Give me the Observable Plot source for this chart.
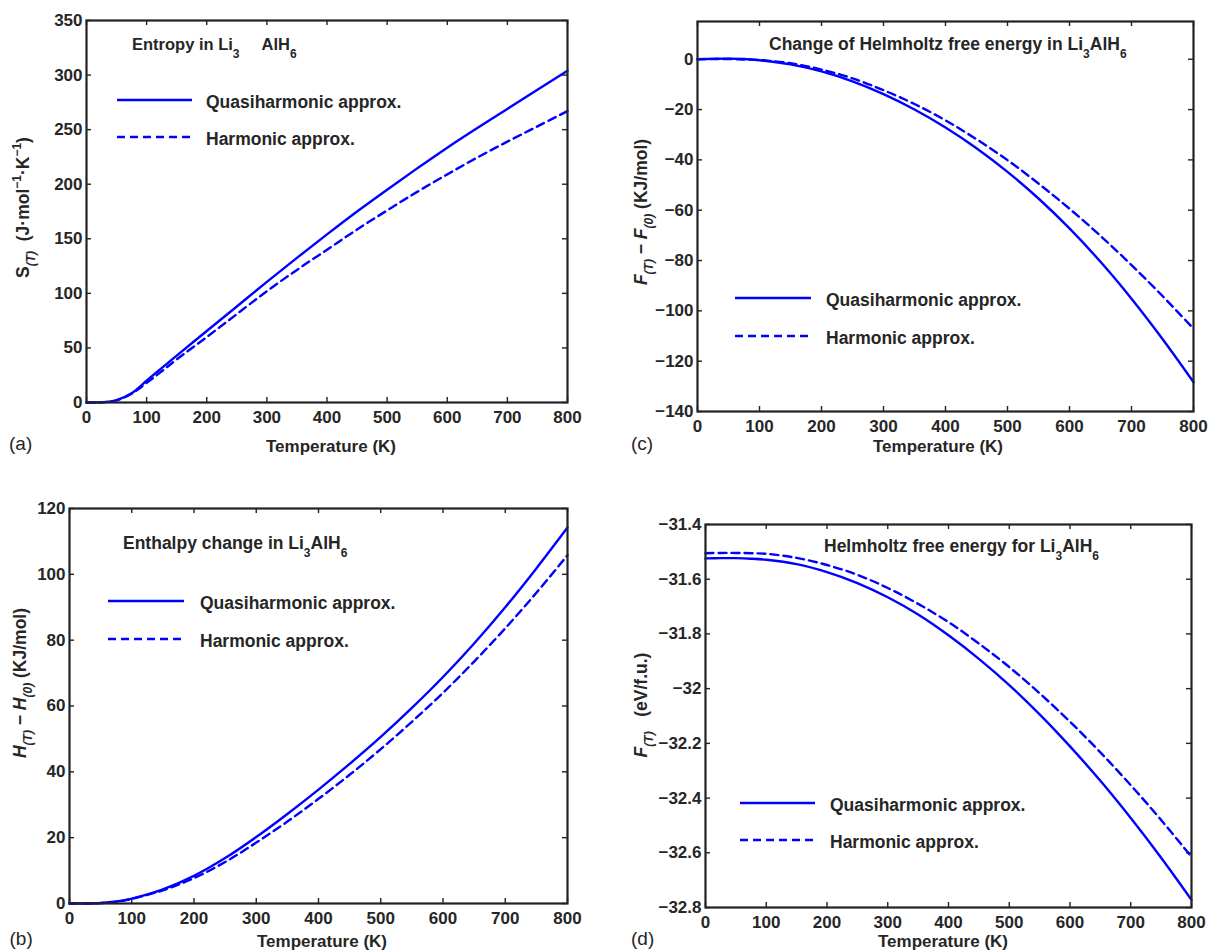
<!DOCTYPE html>
<html>
<head>
<meta charset="utf-8">
<script src="https://cdn.jsdelivr.net/npm/d3@7"></script>
<script src="https://cdn.jsdelivr.net/npm/@observablehq/plot@0.6"></script>
<style>
  body { margin: 0; background: #fff; }
  #fig { position: relative; width: 1208px; height: 950px; overflow: hidden; background: #fff; }
  #fig .panel { position: absolute; }
  #fig svg.overlay { position: absolute; left: 0; top: 0; pointer-events: none; }
</style>
</head>
<body>
<div id="fig"></div>
<script>
// ---- Data: thermodynamic functions of Li3AlH6 vs temperature ----
const tempsA = [0, 25, 50, 75, 100, 125, 150, 200, 250, 300, 350, 400, 450, 500, 550, 600, 650, 700, 750, 800];
const entropyQuasi = [0, 0.2, 2.2, 8.5, 20, 31.5, 43, 65.5, 88, 110.5, 132.5, 154, 175, 195, 214.5, 233.5, 251.5, 269, 286.5, 304];
const entropyHarm  = [0, 0.2, 2.0, 8.0, 18, 28.5, 39.5, 60, 81, 102, 121.5, 140, 158.5, 176, 193, 209, 224.5, 239, 253, 267];

const temps = [0, 25, 50, 75, 100, 150, 200, 250, 300, 350, 400, 450, 500, 550, 600, 650, 700, 750, 800];
const enthalpyQuasi = [0, 0, 0.15, 0.6, 1.5, 4.3, 8.4, 13.8, 20.2, 27.2, 34.6, 42.4, 50.6, 59.4, 68.8, 79.0, 90.0, 101.8, 114.2];
const enthalpyHarm  = [0, 0, 0.12, 0.5, 1.4, 4.0, 7.7, 12.6, 18.5, 24.9, 31.8, 39.1, 46.9, 55.2, 64.0, 73.5, 83.6, 94.4, 105.8];

const helmholtzChangeQuasi = [0, 0.15, 0.25, 0.1, -0.4, -2.05, -4.85, -8.8, -13.85, -19.95, -27.1, -35.35, -44.75, -55.35, -67.25, -80.5, -95.15, -111.15, -128.3];
const helmholtzChangeHarm  = [0, 0.1, 0.1, -0.1, -0.3, -1.6, -4.1, -7.6, -12.3, -17.8, -24.3, -31.8, -40.1, -49.4, -59.4, -70.2, -81.8, -94.1, -107.1];

const freeEnergyQuasi = [-31.524, -31.523, -31.523, -31.525, -31.529, -31.545, -31.574, -31.614, -31.666, -31.729, -31.805, -31.891, -31.987, -32.094, -32.211, -32.337, -32.473, -32.618, -32.772];
const freeEnergyHarm  = [-31.505, -31.504, -31.504, -31.505, -31.507, -31.522, -31.548, -31.584, -31.632, -31.690, -31.757, -31.835, -31.921, -32.017, -32.121, -32.233, -32.353, -32.480, -32.615];

// tick values
const tempTicks = [0, 100, 200, 300, 400, 500, 600, 700, 800];
const entropyTicks = [0, 50, 100, 150, 200, 250, 300, 350];
const enthalpyTicks = [0, 20, 40, 60, 80, 100, 120];
const helmholtzChangeTicks = [-140, -120, -100, -80, -60, -40, -20, 0];
const freeEnergyTicks = [-32.8, -32.6, -32.4, -32.2, -32, -31.8, -31.6, -31.4];

// series labels
const seriesNames = ["Quasiharmonic approx.", "Harmonic approx."];

// ---- Styling ----
const BLUE = "#0000ff";
const INK = "#222";
const FONT = "'Liberation Sans', Arial, Helvetica, sans-serif";
const DASH = "8,5";
const LINE_W = 2.4;

const fig = document.getElementById("fig");

function panel({left, top, width, height, mt, mr, mb, ml, xs, yDomain, yTicks, quasi, harm}) {
  const rows = vals => xs.map((T, i) => ({T, v: vals[i]}));
  const innerW = width - ml - mr;
  const innerH = height - mt - mb;
  const fmt = d3.format("~g");
  const chart = Plot.plot({
    width, height,
    marginTop: mt, marginRight: mr, marginBottom: mb, marginLeft: ml,
    x: {domain: [0, 800]},
    y: {domain: yDomain},
    style: {fontFamily: FONT, fontSize: "17px", fontWeight: "bold", color: "#262626", background: "transparent", overflow: "visible"},
    marks: [
      // inward ticks on all four sides of the box
      Plot.ruleX(tempTicks, {x: d => d, insetTop: innerH - 5, stroke: INK, strokeWidth: 1.4}),
      Plot.ruleX(tempTicks, {x: d => d, insetBottom: innerH - 5, stroke: INK, strokeWidth: 1.4}),
      Plot.ruleY(yTicks, {y: d => d, insetRight: innerW - 5, stroke: INK, strokeWidth: 1.4}),
      Plot.ruleY(yTicks, {y: d => d, insetLeft: innerW - 5, stroke: INK, strokeWidth: 1.4}),
      Plot.line(rows(harm), {x: "T", y: "v", stroke: BLUE, strokeWidth: LINE_W, strokeDasharray: DASH, curve: "catmull-rom"}),
      Plot.line(rows(quasi), {x: "T", y: "v", stroke: BLUE, strokeWidth: LINE_W, curve: "catmull-rom"}),
      Plot.frame({stroke: INK, strokeWidth: 2.2}),
      Plot.axisX({ticks: tempTicks, tickSize: 0, tickPadding: 8, tickFormat: fmt, label: null, fontSize: 17, fontWeight: "bold"}),
      Plot.axisY({ticks: yTicks, tickSize: 0, tickPadding: 4, tickFormat: fmt, label: null, fontSize: 17, fontWeight: "bold"})
    ]
  });
  const holder = document.createElement("div");
  holder.className = "panel";
  holder.style.left = left + "px";
  holder.style.top = top + "px";
  holder.appendChild(chart);
  fig.appendChild(holder);
}

panel({left: 0, top: 0, width: 604, height: 470, mt: 20, mr: 37, mb: 68, ml: 86,
  xs: tempsA, yDomain: [0, 350], yTicks: entropyTicks, quasi: entropyQuasi, harm: entropyHarm});
panel({left: 0, top: 470, width: 604, height: 480, mt: 38, mr: 37, mb: 47, ml: 69,
  xs: temps, yDomain: [0, 120], yTicks: enthalpyTicks, quasi: enthalpyQuasi, harm: enthalpyHarm});
panel({left: 604, top: 0, width: 604, height: 470, mt: 21, mr: 15, mb: 59, ml: 93,
  xs: temps, yDomain: [-140, 15], yTicks: helmholtzChangeTicks, quasi: helmholtzChangeQuasi, harm: helmholtzChangeHarm});
panel({left: 604, top: 470, width: 604, height: 480, mt: 54, mr: 17, mb: 43, ml: 101,
  xs: temps, yDomain: [-32.8, -31.4], yTicks: freeEnergyTicks, quasi: freeEnergyQuasi, harm: freeEnergyHarm});

// ---- Annotations: titles, legends, axis titles, panel letters ----
const svg = d3.select(fig).append("svg")
  .attr("class", "overlay")
  .attr("width", 1208).attr("height", 950)
  .attr("font-family", FONT)
  .attr("fill", "#262626");

// rich text with sub/superscripts; segments: {t, sub, sup, italic, dx}
function rich(segments, {x, y, size, anchor = "start", rotate = false, weight = "bold", subSize = 12, subShift = 8, supShift = -8}) {
  const text = svg.append("text")
    .attr("font-size", size)
    .attr("font-weight", weight)
    .attr("text-anchor", anchor)
    .style("white-space", "pre");
  if (rotate) text.attr("transform", `translate(${x},${y}) rotate(-90)`);
  else text.attr("x", x).attr("y", y);
  let shift = 0;
  for (const s of segments) {
    const target = s.sub ? subShift : s.sup ? supShift : 0;
    const ts = text.append("tspan").text(s.t).attr("dy", target - shift);
    if (s.sub || s.sup) ts.attr("font-size", subSize);
    if (s.italic) ts.attr("font-style", "italic");
    if (s.dx) ts.attr("dx", s.dx);
    shift = target;
  }
  return text;
}

function legend({x0, x1, y0, y1, tx, size = 17.5}) {
  svg.append("line").attr("x1", x0).attr("x2", x1).attr("y1", y0).attr("y2", y0)
    .attr("stroke", BLUE).attr("stroke-width", LINE_W);
  svg.append("line").attr("x1", x0).attr("x2", x1).attr("y1", y1).attr("y2", y1)
    .attr("stroke", BLUE).attr("stroke-width", LINE_W).attr("stroke-dasharray", DASH);
  rich([{t: seriesNames[0]}], {x: tx, y: y0 + 8, size});
  rich([{t: seriesNames[1]}], {x: tx, y: y1 + 8, size});
}

// titles
rich([{t: "Entropy in Li"}, {t: "3", sub: true}, {t: "AlH", dx: 22}, {t: "6", sub: true}], {x: 132, y: 50, size: 16.5});
rich([{t: "Enthalpy change in Li"}, {t: "3", sub: true}, {t: "AlH"}, {t: "6", sub: true}], {x: 123, y: 549, size: 17.5});
rich([{t: "Change of Helmholtz free energy in Li"}, {t: "3", sub: true}, {t: "AlH"}, {t: "6", sub: true}], {x: 769, y: 50, size: 17.5});
rich([{t: "Helmholtz free energy for Li"}, {t: "3", sub: true}, {t: "AlH"}, {t: "6", sub: true}], {x: 824, y: 552, size: 17.5});

// legends
legend({x0: 117, x1: 192, y0: 100, y1: 137, tx: 206});
legend({x0: 108, x1: 184, y0: 601, y1: 639, tx: 200});
legend({x0: 735, x1: 811, y0: 298, y1: 336, tx: 826});
legend({x0: 740, x1: 815, y0: 803, y1: 840, tx: 830});

// x-axis titles
for (const [x, y] of [[331, 451.5], [322, 946.5], [938, 451.5], [943, 946.5]]) {
  rich([{t: "Temperature (K)"}], {x, y, size: 17, anchor: "middle"});
}

// panel letters
for (const [t, x, y] of [["(a)", 9, 449.5], ["(b)", 9.5, 945], ["(c)", 631, 449.5], ["(d)", 631, 945]]) {
  rich([{t}], {x, y, size: 19, weight: "normal"});
}

// y-axis titles
rich([{t: "S"}, {t: "(T)", sub: true, italic: true}, {t: "  (J·mol"}, {t: "−1", sup: true}, {t: "·K"}, {t: "−1", sup: true}, {t: ")"}],
  {x: 29, y: 207.5, size: 17.5, anchor: "middle", rotate: true, subShift: 6});
rich([{t: "H", italic: true}, {t: "(T)", sub: true, italic: true}, {t: " − "}, {t: "H", italic: true}, {t: "(0)", sub: true, italic: true}, {t: " (KJ/mol)"}],
  {x: 26, y: 683, size: 17.5, anchor: "middle", rotate: true, subShift: 6});
rich([{t: "F", italic: true}, {t: "(T)", sub: true, italic: true}, {t: " − "}, {t: "F", italic: true}, {t: "(0)", sub: true, italic: true}, {t: " (KJ/mol)"}],
  {x: 647, y: 212, size: 17.5, anchor: "middle", rotate: true, subShift: 6});
rich([{t: "F", italic: true}, {t: "(T)", sub: true, italic: true}, {t: "   (eV/f.u.)"}],
  {x: 647, y: 705, size: 17.5, anchor: "middle", rotate: true, subShift: 6});
</script>
</body>
</html>
